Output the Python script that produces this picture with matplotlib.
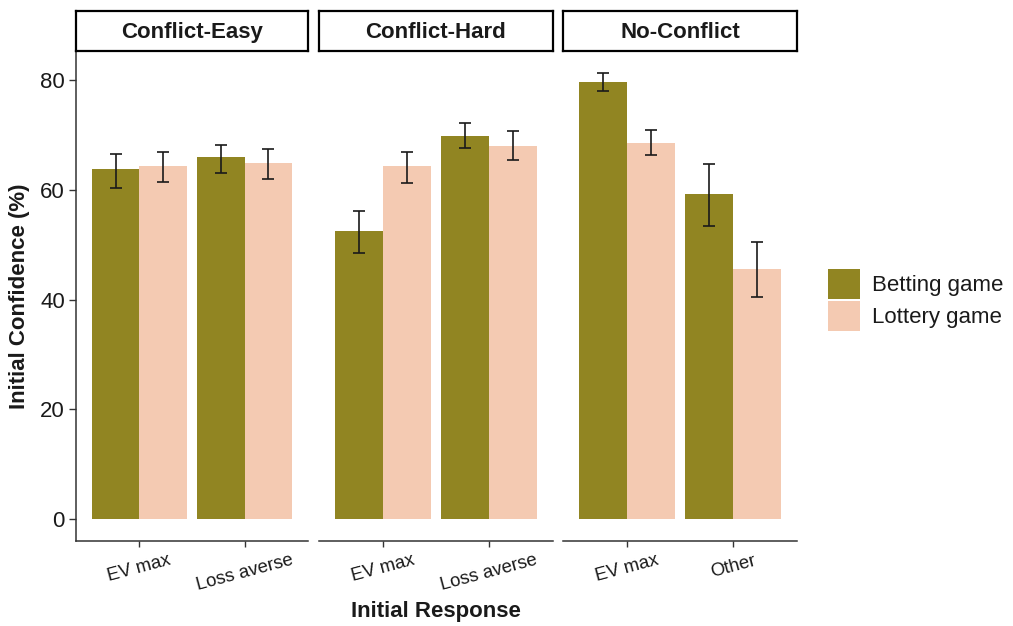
import matplotlib
matplotlib.use('Agg')
import matplotlib.pyplot as plt
from matplotlib.patches import Patch
import numpy as np

plt.rcParams['font.family'] = ['Liberation Sans', 'DejaVu Sans']

conditions = ['Conflict-Easy', 'Conflict-Hard', 'No-Conflict']
responses = [['EV max', 'Loss averse'], ['EV max', 'Loss averse'], ['EV max', 'Other']]
games = ['Betting game', 'Lottery game']
colors = ['#918522', '#F4CAB2']

# mean confidence and error bar limits per condition / response
betting_mean = [[63.8, 66.0], [52.5, 69.9], [79.7, 59.2]]
betting_low = [[60.4, 63.1], [48.5, 67.7], [78.0, 53.4]]
betting_high = [[66.6, 68.3], [56.2, 72.3], [81.3, 64.8]]
lottery_mean = [[64.4, 64.9], [64.3, 68.1], [68.6, 45.5]]
lottery_low = [[61.5, 62.0], [61.3, 65.5], [66.4, 40.5]]
lottery_high = [[66.9, 67.5], [66.9, 70.7], [71.0, 50.5]]

yticks = [0, 20, 40, 60, 80]

W, H = 1013, 626
fig = plt.figure(figsize=(W / 100, H / 100), dpi=100)


def px(x0, y0, x1, y1):
    return [x0 / W, 1 - y1 / H, (x1 - x0) / W, (y1 - y0) / H]


panels = [(76, 308), (319, 553), (563, 797)]
top_val = max(max(r) for r in betting_high + lottery_high)
ylim = (-0.05 * top_val, 1.05 * top_val)
axis_col = '#333333'
text_col = '#1a1a1a'
bw = 0.45

for i, (x0, x1) in enumerate(panels):
    ax = fig.add_axes(px(x0, 51, x1, 541))
    x = np.arange(1, 3)
    series = [(betting_mean, betting_low, betting_high, -bw / 2),
              (lottery_mean, lottery_low, lottery_high, bw / 2)]
    for k, (m, lo, hi, off) in enumerate(series):
        mean = np.array(m[i])
        err = [mean - np.array(lo[i]), np.array(hi[i]) - mean]
        ax.bar(x + off, mean, width=bw, color=colors[k], edgecolor='none')
        ax.errorbar(x + off, mean, yerr=err, fmt='none', ecolor=text_col,
                    elinewidth=1.2, capsize=4, capthick=1.2)
    ax.set_xlim(0.4, 2.6)
    ax.set_ylim(*ylim)
    ax.set_xticks(x)
    ax.set_xticklabels(responses[i], rotation=15, fontsize=13.3, color=text_col)
    ax.tick_params(axis='x', length=4, width=1, color=axis_col, pad=4)
    for s in ['top', 'right']:
        ax.spines[s].set_visible(False)
    ax.spines['bottom'].set_color(axis_col)
    ax.spines['bottom'].set_linewidth(1.1)
    if i == 0:
        ax.spines['left'].set_color(axis_col)
        ax.spines['left'].set_linewidth(1.1)
        ax.set_yticks(yticks)
        ax.tick_params(axis='y', length=5, width=1, color=axis_col, pad=3,
                       labelsize=16, labelcolor=text_col)
    else:
        ax.spines['left'].set_visible(False)
        ax.set_yticks([])

    strip = fig.add_axes(px(x0, 11, x1, 51))
    strip.set_xticks([])
    strip.set_yticks([])
    for s in strip.spines.values():
        s.set_linewidth(1.6)
        s.set_color('black')
    strip.text(0.5, 0.47, conditions[i], ha='center', va='center',
               fontsize=16, fontweight='bold', color=text_col,
               transform=strip.transAxes)

fig.text(20 / W, 1 - 296 / H, 'Initial Confidence (%)', rotation=90,
         ha='center', va='center', fontsize=16, fontweight='bold', color=text_col)
fig.text(436 / W, 1 - 612 / H, 'Initial Response', ha='center', va='center',
         fontsize=16, fontweight='bold', color=text_col)

handles = [Patch(facecolor=c, edgecolor='none') for c in colors]
fig.legend(handles, games, loc='center left', bbox_to_anchor=(828 / W, 1 - 300 / H),
           frameon=False, fontsize=16, handlelength=1.45, handleheight=1.67,
           labelspacing=0.1, handletextpad=0.55, borderpad=0, borderaxespad=0,
           labelcolor=text_col)

fig.savefig('out.png', dpi=100)
